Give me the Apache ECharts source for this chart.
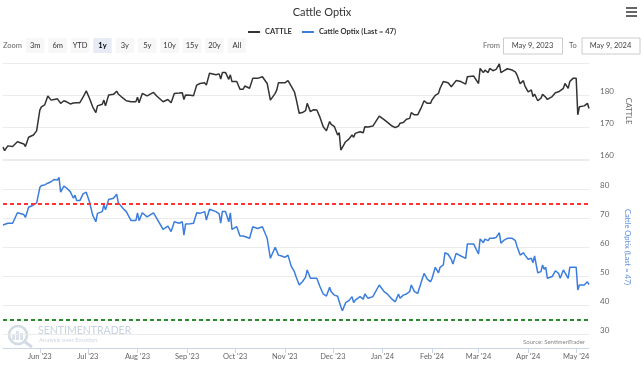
<!DOCTYPE html>
<html><head><meta charset="utf-8">
<script src="https://cdn.jsdelivr.net/npm/echarts@6/dist/echarts.min.js"></script>
<style>html,body{margin:0;padding:0;background:#fff}#c{width:644px;height:365px}</style>
</head><body><div id="c"></div>
<script>
const chartTitle = 'Cattle Optix';
const priceName = 'CATTLE';
const optixName = 'Cattle Optix (Last = 47)';
const dates = [
'2023-05-09','2023-05-10','2023-05-12','2023-05-15','2023-05-18','2023-05-22','2023-05-23','2023-05-25','2023-05-28','2023-05-30',
'2023-06-01','2023-06-02','2023-06-04','2023-06-06','2023-06-08','2023-06-10','2023-06-12','2023-06-13','2023-06-14','2023-06-16',
'2023-06-18','2023-06-20','2023-06-22','2023-06-23','2023-06-24','2023-06-26','2023-06-28','2023-06-30','2023-07-02','2023-07-04',
'2023-07-06','2023-07-07','2023-07-10','2023-07-11','2023-07-12','2023-07-14','2023-07-17','2023-07-19','2023-07-20','2023-07-21',
'2023-07-23','2023-07-25','2023-07-26','2023-07-28','2023-07-31','2023-08-01','2023-08-02','2023-08-04','2023-08-07','2023-08-11',
'2023-08-13','2023-08-17','2023-08-20','2023-08-22','2023-08-24','2023-08-27','2023-08-29','2023-08-30','2023-08-31','2023-09-03',
'2023-09-05','2023-09-07','2023-09-09','2023-09-12','2023-09-13','2023-09-15','2023-09-19','2023-09-21','2023-09-22','2023-09-23',
'2023-09-25','2023-09-27','2023-09-28','2023-09-29','2023-10-02','2023-10-04','2023-10-06','2023-10-07','2023-10-10','2023-10-12',
'2023-10-15','2023-10-18','2023-10-21','2023-10-23','2023-10-26','2023-10-27','2023-10-28','2023-10-30','2023-11-01','2023-11-03',
'2023-11-05','2023-11-07','2023-11-08','2023-11-10','2023-11-12','2023-11-14','2023-11-15','2023-11-17','2023-11-19','2023-11-21',
'2023-11-23','2023-11-25','2023-11-27','2023-11-29','2023-11-30','2023-12-02','2023-12-04','2023-12-05','2023-12-06','2023-12-07',
'2023-12-09','2023-12-11','2023-12-13','2023-12-14','2023-12-15','2023-12-18','2023-12-20','2023-12-21','2023-12-23','2023-12-26',
'2023-12-30','2024-01-02','2024-01-04','2024-01-07','2024-01-09','2024-01-11','2024-01-12','2024-01-14','2024-01-16','2024-01-18',
'2024-01-19','2024-01-21','2024-01-23','2024-01-25','2024-01-27','2024-01-29','2024-01-31','2024-02-01','2024-02-03','2024-02-05',
'2024-02-06','2024-02-08','2024-02-09','2024-02-11','2024-02-12','2024-02-13','2024-02-14','2024-02-16','2024-02-19','2024-02-22',
'2024-02-23','2024-02-27','2024-03-01','2024-03-02','2024-03-04','2024-03-05','2024-03-07','2024-03-08','2024-03-10','2024-03-12',
'2024-03-14','2024-03-15','2024-03-17','2024-03-19','2024-03-20','2024-03-22','2024-03-24','2024-03-25','2024-03-27','2024-03-29',
'2024-03-30','2024-04-01','2024-04-02','2024-04-03','2024-04-04','2024-04-05','2024-04-07','2024-04-09','2024-04-10','2024-04-11',
'2024-04-12','2024-04-13','2024-04-16','2024-04-18','2024-04-20','2024-04-21','2024-04-23','2024-04-24','2024-04-26','2024-04-27',
'2024-04-29','2024-05-01','2024-05-02','2024-05-03','2024-05-06','2024-05-08','2024-05-09'
];
const cattle = [
163.7,162.6,164.1,163.9,165.4,164.7,163.9,166.8,167.5,168.8,
175.3,176.3,176.9,179.7,178.4,178.6,178.8,179.3,177.4,178.2,
177.8,177.2,177.5,177.6,177.6,177.6,179.3,181.3,179.0,176.3,
174.5,176.6,177.1,178.4,176.6,180.0,180.2,181.2,180.3,180.0,
179.0,178.2,178.0,177.9,177.9,179.3,177.6,180.5,179.7,180.8,
179.7,177.9,178.6,177.6,180.5,180.6,180.7,178.6,180.0,179.9,
179.8,183.1,183.6,183.8,183.1,186.8,186.3,186.6,185.0,187.0,
187.0,184.9,186.3,184.2,184.2,181.8,181.8,182.8,182.1,185.2,
185.2,185.7,183.6,178.4,180.5,181.6,183.8,183.8,183.8,184.5,
182.8,181.0,179.0,174.3,174.5,175.1,177.4,174.8,175.4,175.3,
173.0,170.1,168.8,171.7,170.8,170.1,167.5,168.2,162.8,162.3,
165.4,166.2,167.5,166.8,168.0,168.5,168.2,170.1,170.0,170.3,
173.4,172.3,171.5,170.3,169.8,170.3,171.2,171.4,172.4,172.7,
174.5,173.8,173.8,175.8,178.2,177.4,177.4,178.5,179.9,180.5,
182.1,184.2,184.0,183.8,183.4,182.6,183.2,184.5,184.2,183.4,
185.7,185.9,183.6,188.3,187.0,187.8,187.0,188.3,187.6,188.0,
189.7,187.0,187.6,188.2,188.6,187.8,187.2,186.3,183.5,184.5,
182.8,181.0,181.4,181.6,179.5,180.3,178.2,179.0,180.2,179.6,
179.3,178.6,179.5,180.7,181.0,181.0,182.1,183.6,182.1,184.2,
185.2,185.2,173.8,176.3,176.6,177.4,175.8
];
const optix = [
67.6,67.0,68.2,68.2,71.8,71.2,70.2,73.7,74.5,75.1,
80.5,81.2,81.4,82.0,82.5,83.3,83.1,84.0,78.9,81.0,
80.2,79.1,76.8,77.9,76.0,76.0,78.3,78.9,75.6,71.0,
68.7,71.6,72.2,74.5,72.8,76.4,76.8,78.2,75.3,74.8,
73.3,72.2,71.8,69.1,69.1,71.8,69.1,71.8,70.4,71.8,
69.9,66.1,67.2,65.3,68.7,68.2,68.7,64.1,67.9,68.0,
68.2,71.8,71.6,72.2,69.3,73.0,72.2,71.4,68.2,72.2,
72.2,68.7,71.8,66.1,67.0,63.8,63.8,63.5,63.0,67.0,
66.4,67.0,63.0,56.1,59.9,59.6,57.2,56.9,56.4,57.2,
53.4,51.5,49.8,46.9,48.0,49.6,52.1,49.2,49.2,49.2,
46.3,43.8,43.1,46.1,44.6,43.4,43.0,42.9,39.4,38.0,
40.8,41.5,42.9,40.8,41.7,42.9,42.0,43.8,42.3,42.9,
46.9,44.6,43.8,42.0,41.1,43.8,42.3,43.4,43.8,44.6,
46.9,44.6,44.0,47.5,50.9,48.9,48.0,49.2,53.0,51.1,
53.0,53.8,58.0,57.5,57.2,55.7,54.1,57.8,56.9,56.1,
61.0,61.0,57.6,62.8,61.5,62.7,62.2,63.0,63.0,63.3,
64.9,61.3,62.4,63.0,63.0,63.0,62.2,60.3,57.2,58.0,
57.2,55.8,55.5,56.1,54.6,56.9,51.1,51.5,53.8,52.3,
53.0,49.2,49.8,51.8,50.9,49.2,52.1,51.5,49.2,53.0,
53.0,53.0,45.2,46.9,46.9,48.0,47.0
];
const upperBand = 75;
const lowerBand = 35;
const monthNames = ['Jan','Feb','Mar','Apr','May','Jun','Jul','Aug','Sep','Oct','Nov','Dec'];
const zoomButtons = ['3m','6m','YTD','1y','3y','5y','10y','15y','20y','All'];
const selectedZoom = '1y';
const fromDate = 'May 9, 2023';
const toDate = 'May 9, 2024';
const rangeStart = '2023-05-09';
const rangeEnd = '2024-05-09';

const FONT = 'Lato, "Open Sans", Arial, sans-serif';
const chart = echarts.init(document.getElementById('c'), null, {renderer: 'canvas'});

const graphics = [];
// hamburger menu
[8, 12, 16].forEach(y => graphics.push({type: 'rect', left: 626, top: y - 1, shape: {width: 11, height: 2}, style: {fill: '#666'}}));
// zoom selector
graphics.push({type: 'text', x: 3, y: 45.5, style: {text: 'Zoom', font: '7.5px ' + FONT, fill: '#666', verticalAlign: 'middle'}});
zoomButtons.forEach((b, i) => {
  const x = 26 + i * 22.4;
  const sel = b === selectedZoom;
  graphics.push({type: 'rect', left: x, top: 38, shape: {width: 18.5, height: 15, r: 1}, style: {fill: sel ? '#e6ebf5' : '#f7f7f7'}});
  graphics.push({type: 'text', x: x + 9.25, y: 45.5, style: {text: b, font: (sel ? 'bold ' : '') + '7.5px ' + FONT, fill: sel ? '#000' : '#333', align: 'center', verticalAlign: 'middle'}});
});
// date range inputs
graphics.push({type: 'text', x: 483, y: 45.5, style: {text: 'From', font: '7.5px ' + FONT, fill: '#666', verticalAlign: 'middle'}});
graphics.push({type: 'rect', left: 503, top: 37.5, shape: {width: 59, height: 16}, style: {fill: '#fff', stroke: '#ccc', lineWidth: 1}});
graphics.push({type: 'text', x: 532.5, y: 45.5, style: {text: fromDate, font: '7.5px ' + FONT, fill: '#444', align: 'center', verticalAlign: 'middle'}});
graphics.push({type: 'text', x: 569, y: 45.5, style: {text: 'To', font: '7.5px ' + FONT, fill: '#666', verticalAlign: 'middle'}});
graphics.push({type: 'rect', left: 581.5, top: 37.5, shape: {width: 58, height: 16}, style: {fill: '#fff', stroke: '#ccc', lineWidth: 1}});
graphics.push({type: 'text', x: 610.5, y: 45.5, style: {text: toDate, font: '7.5px ' + FONT, fill: '#444', align: 'center', verticalAlign: 'middle'}});
// watermark
graphics.push({type: 'circle', shape: {cx: 18, cy: 335, r: 9}, style: {fill: 'none', stroke: '#d2dae3', lineWidth: 2.5}});
graphics.push({type: 'line', shape: {x1: 25, y1: 342, x2: 32, y2: 347}, style: {stroke: '#d2dae3', lineWidth: 3}});
[[12, 335, 5], [16, 331, 9], [20, 333, 7]].forEach(b => graphics.push({type: 'rect', shape: {x: b[0], y: b[1], width: 3, height: b[2]}, style: {fill: '#dbe2ea'}}));
graphics.push({type: 'text', x: 38, y: 331, style: {text: 'SENTIMENTRADER', font: '10.5px ' + FONT, fill: '#c8d3df', verticalAlign: 'middle'}});
graphics.push({type: 'text', x: 39, y: 340, style: {text: 'Analysis over Emotion', font: '6px ' + FONT, fill: '#d0d8e0', textLetterSpacing: 1, verticalAlign: 'middle'}});
graphics.push({type: 'text', x: 585, y: 342, style: {text: 'Source: SentimenTrader', font: '6px ' + FONT, fill: '#888', align: 'right', verticalAlign: 'middle'}});

const yLabel = {color: '#666', fontSize: 8, fontFamily: FONT, margin: 11, align: 'left', verticalAlign: 'bottom', lineHeight: 7, showMaxLabel: false};
const splitLine = {show: true, lineStyle: {color: '#ebebeb', width: 1}};

chart.setOption({
  animation: false,
  backgroundColor: '#fff',
  textStyle: {fontFamily: FONT},
  title: {text: chartTitle, left: 'center', top: 2, textStyle: {fontSize: 11, fontWeight: 'normal', color: '#333', fontFamily: FONT}},
  legend: {
    top: 23, left: 'center', itemWidth: 12, itemHeight: 2, itemGap: 10, icon: 'rect',
    textStyle: {fontSize: 7.5, fontWeight: 'bold', color: '#333', fontFamily: FONT},
    data: [priceName, optixName]
  },
  graphic: graphics,
  grid: [
    {left: 3, right: 55, top: 63, height: 96},
    {left: 3, right: 55, top: 160, height: 174}
  ],
  xAxis: [
    {type: 'time', gridIndex: 0, min: rangeStart, max: rangeEnd, show: false, splitLine: {show: false}},
    {type: 'time', gridIndex: 1, min: rangeStart, max: rangeEnd, offset: 14, splitNumber: 12,
     minInterval: 28 * 86400000, maxInterval: 31 * 86400000,
     axisLine: {show: true, lineStyle: {color: '#ccd6eb'}},
     axisTick: {show: true, length: 5, lineStyle: {color: '#ccd6eb'}},
     splitLine: {show: false},
     axisLabel: {color: '#666', fontSize: 7.5, fontFamily: FONT, margin: 5, hideOverlap: false,
       formatter: v => { const d = new Date(v); return monthNames[d.getMonth()] + " '" + String(d.getFullYear()).slice(2); }}}
  ],
  yAxis: [
    {type: 'value', gridIndex: 0, position: 'right', min: 160, max: 190, interval: 10,
     name: priceName, nameLocation: 'middle', nameRotate: -90, nameGap: 34,
     nameTextStyle: {color: '#666', fontSize: 7.5, fontFamily: FONT},
     axisLine: {show: false}, axisTick: {show: false}, axisLabel: yLabel, splitLine: splitLine},
    {type: 'value', gridIndex: 1, position: 'right', min: 30, max: 90, interval: 10,
     name: optixName, nameLocation: 'middle', nameRotate: -90, nameGap: 34,
     nameTextStyle: {color: '#5b8fdc', fontSize: 7.5, fontFamily: FONT},
     axisLine: {show: false}, axisTick: {show: false}, axisLabel: yLabel, splitLine: splitLine}
  ],
  series: [
    {name: priceName, type: 'line', xAxisIndex: 0, yAxisIndex: 0, showSymbol: false,
     color: '#333', lineStyle: {color: '#333', width: 1.5},
     data: dates.map((d, i) => [d, cattle[i]])},
    {name: optixName, type: 'line', xAxisIndex: 1, yAxisIndex: 1, showSymbol: false,
     color: '#3b7ddd', lineStyle: {color: '#3b7ddd', width: 1.5},
     data: dates.map((d, i) => [d, optix[i]]),
     markLine: {silent: true, symbol: 'none', label: {show: false},
       data: [
         {yAxis: upperBand, lineStyle: {color: '#ff3333', width: 2, type: [4, 3]}},
         {yAxis: lowerBand, lineStyle: {color: '#2a8a2a', width: 2, type: [4, 3]}}
       ]}}
  ]
});
</script></body></html>
